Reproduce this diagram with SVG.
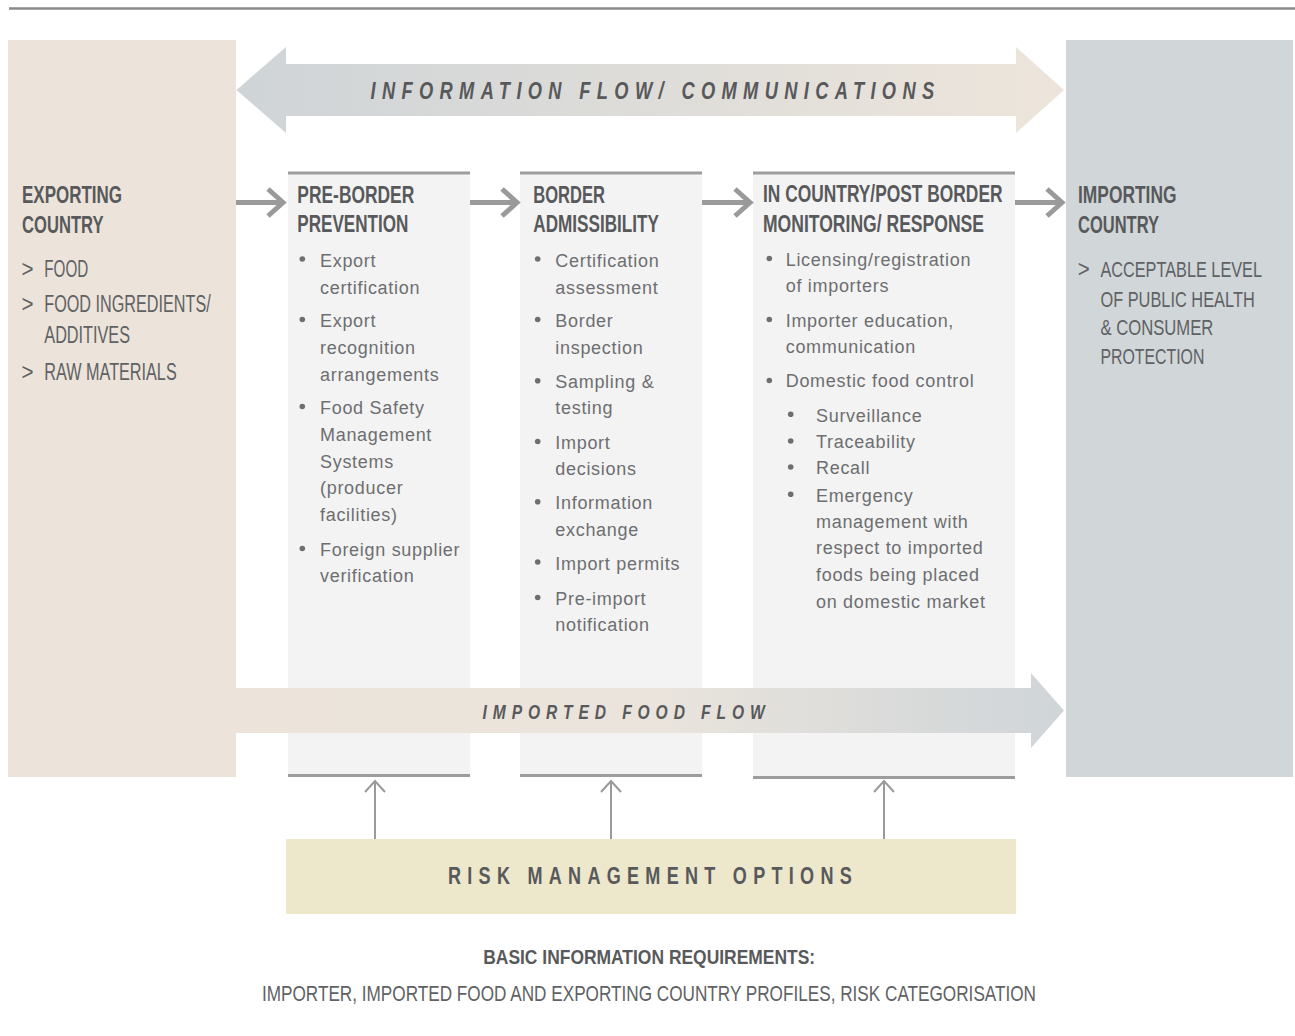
<svg xmlns="http://www.w3.org/2000/svg" width="1295" height="1036" viewBox="0 0 1295 1036">
<defs>
<linearGradient id="gInfo" gradientUnits="userSpaceOnUse" x1="236" y1="0" x2="1064" y2="0">
<stop offset="0" stop-color="#cfd4d7"/>
<stop offset="1" stop-color="#ede5db"/>
</linearGradient>
<linearGradient id="gFood" gradientUnits="userSpaceOnUse" x1="236" y1="0" x2="1064" y2="0">
<stop offset="0" stop-color="#ece4da"/>
<stop offset="0.5" stop-color="#eae4dc"/>
<stop offset="0.92" stop-color="#d3d7d9"/>
<stop offset="1" stop-color="#d0d5d8"/>
</linearGradient>
<style>
text{font-family:"Liberation Sans",Arial,sans-serif}
.h{font-weight:bold;font-size:23px;fill:#58595b}
.c{font-size:23px;fill:#606163}
.cs{font-size:17px;fill:#606163}
.b{font-size:18px;letter-spacing:0.7px;fill:#6d6e71}
.t{font-weight:bold;font-size:23px;letter-spacing:8px;fill:#58595b}
.it{font-style:italic}
.col{fill:#f3f3f3}
.edge{stroke:#9d9d9d;stroke-width:3}
.dot{fill:#6d6e71}
.conn{fill:none;stroke:#9a9a9a;stroke-width:5;stroke-linejoin:miter}
.up{fill:none;stroke:#9a9a9a;stroke-width:2}
</style>
</defs>

<line x1="9" y1="8.5" x2="1295" y2="8.5" stroke="#8a8a8a" stroke-width="2.5"/>

<g id="exporting-country">
<rect x="8" y="40" width="228" height="737" fill="#ece4da"/>
<text class="h" x="22" y="203" textLength="100" lengthAdjust="spacingAndGlyphs">EXPORTING</text>
<text class="h" x="22" y="233" textLength="81.5" lengthAdjust="spacingAndGlyphs">COUNTRY</text>
<text class="c" x="21.5" y="277" textLength="12" lengthAdjust="spacingAndGlyphs">&gt;</text>
<text class="c" x="44.3" y="277" textLength="44" lengthAdjust="spacingAndGlyphs">FOOD</text>
<text class="c" x="21.5" y="312" textLength="12" lengthAdjust="spacingAndGlyphs">&gt;</text>
<text class="c" x="44.3" y="312" textLength="166.4" lengthAdjust="spacingAndGlyphs">FOOD INGREDIENTS/</text>
<text class="c" x="44.3" y="342.5" textLength="85.7" lengthAdjust="spacingAndGlyphs">ADDITIVES</text>
<text class="c" x="21.5" y="380" textLength="12" lengthAdjust="spacingAndGlyphs">&gt;</text>
<text class="c" x="44.3" y="380" textLength="132.4" lengthAdjust="spacingAndGlyphs">RAW MATERIALS</text>
</g>

<g id="importing-country">
<rect x="1066" y="40" width="227" height="737" fill="#d1d6d9"/>
<text class="h" x="1078" y="202.5" textLength="98.5" lengthAdjust="spacingAndGlyphs">IMPORTING</text>
<text class="h" x="1078" y="232.5" textLength="81" lengthAdjust="spacingAndGlyphs">COUNTRY</text>
<text class="c" x="1077.8" y="277" textLength="12" lengthAdjust="spacingAndGlyphs">&gt;</text>
<text class="cs" x="0" y="0" transform="translate(1100.4 277) scale(1 1.35)" textLength="161.6" lengthAdjust="spacingAndGlyphs">ACCEPTABLE LEVEL</text>
<text class="cs" x="0" y="0" transform="translate(1100.4 306.7) scale(1 1.35)" textLength="154.3" lengthAdjust="spacingAndGlyphs">OF PUBLIC HEALTH</text>
<text class="cs" x="0" y="0" transform="translate(1100.4 335) scale(1 1.35)" textLength="113" lengthAdjust="spacingAndGlyphs">&amp; CONSUMER</text>
<text class="cs" x="0" y="0" transform="translate(1100.4 364.3) scale(1 1.35)" textLength="104" lengthAdjust="spacingAndGlyphs">PROTECTION</text>
</g>

<g id="information-flow">
<polygon points="236.5,90 286,47 286,64 1016,64 1016,47 1064,90 1016,133 1016,116 286,116 286,133" fill="url(#gInfo)"/>
<text class="t it" x="370.5" y="98.5" textLength="570" lengthAdjust="spacingAndGlyphs">INFORMATION FLOW/ COMMUNICATIONS</text>
</g>

<g id="pre-border-prevention">
<rect class="col" x="288" y="172" width="182" height="604"/>
<line class="edge" x1="288" y1="173" x2="470" y2="173"/>
<line class="edge" x1="288" y1="775.5" x2="470" y2="775.5"/>
<text class="h" x="297.3" y="202.7" textLength="117" lengthAdjust="spacingAndGlyphs">PRE-BORDER</text>
<text class="h" x="297.3" y="231.7" textLength="111" lengthAdjust="spacingAndGlyphs">PREVENTION</text>
<circle class="dot" cx="302.3" cy="259" r="2.8"/>
<text class="b" x="320" y="266.5">Export</text>
<text class="b" x="320" y="293.5">certification</text>
<circle class="dot" cx="302.3" cy="319.5" r="2.8"/>
<text class="b" x="320" y="327">Export</text>
<text class="b" x="320" y="354">recognition</text>
<text class="b" x="320" y="380.5">arrangements</text>
<circle class="dot" cx="302.3" cy="406.5" r="2.8"/>
<text class="b" x="320" y="414">Food Safety</text>
<text class="b" x="320" y="441">Management</text>
<text class="b" x="320" y="467.5">Systems</text>
<text class="b" x="320" y="494">(producer</text>
<text class="b" x="320" y="520.5">facilities)</text>
<circle class="dot" cx="302.3" cy="548.5" r="2.8"/>
<text class="b" x="320" y="556">Foreign supplier</text>
<text class="b" x="320" y="582">verification</text>
</g>

<g id="border-admissibility">
<rect class="col" x="520" y="172" width="182" height="604"/>
<line class="edge" x1="520" y1="173" x2="702" y2="173"/>
<line class="edge" x1="520" y1="775.5" x2="702" y2="775.5"/>
<text class="h" x="533.3" y="202.7" textLength="71.7" lengthAdjust="spacingAndGlyphs">BORDER</text>
<text class="h" x="533.3" y="231.7" textLength="125.7" lengthAdjust="spacingAndGlyphs">ADMISSIBILITY</text>
<circle class="dot" cx="537.7" cy="259" r="2.8"/>
<text class="b" x="555.3" y="266.5">Certification</text>
<text class="b" x="555.3" y="293.5">assessment</text>
<circle class="dot" cx="537.7" cy="319.5" r="2.8"/>
<text class="b" x="555.3" y="327">Border</text>
<text class="b" x="555.3" y="353.5">inspection</text>
<circle class="dot" cx="537.7" cy="380.8" r="2.8"/>
<text class="b" x="555.3" y="388.3">Sampling &amp;</text>
<text class="b" x="555.3" y="414">testing</text>
<circle class="dot" cx="537.7" cy="441.5" r="2.8"/>
<text class="b" x="555.3" y="449">Import</text>
<text class="b" x="555.3" y="475">decisions</text>
<circle class="dot" cx="537.7" cy="501.8" r="2.8"/>
<text class="b" x="555.3" y="509.3">Information</text>
<text class="b" x="555.3" y="535.5">exchange</text>
<circle class="dot" cx="537.7" cy="562" r="2.8"/>
<text class="b" x="555.3" y="569.5">Import permits</text>
<circle class="dot" cx="537.7" cy="597.5" r="2.8"/>
<text class="b" x="555.3" y="605">Pre-import</text>
<text class="b" x="555.3" y="631">notification</text>
</g>

<g id="in-country-post-border">
<rect class="col" x="753" y="172" width="262" height="606"/>
<line class="edge" x1="753" y1="173" x2="1015" y2="173"/>
<line class="edge" x1="753" y1="777.5" x2="1015" y2="777.5"/>
<text class="h" x="763" y="202.3" textLength="239.5" lengthAdjust="spacingAndGlyphs">IN COUNTRY/POST BORDER</text>
<text class="h" x="763" y="232" textLength="221" lengthAdjust="spacingAndGlyphs">MONITORING/ RESPONSE</text>
<circle class="dot" cx="769.3" cy="258.5" r="2.8"/>
<text class="b" x="785.7" y="266">Licensing/registration</text>
<text class="b" x="785.7" y="292">of importers</text>
<circle class="dot" cx="769.3" cy="319.5" r="2.8"/>
<text class="b" x="785.7" y="327">Importer education,</text>
<text class="b" x="785.7" y="353">communication</text>
<circle class="dot" cx="769.3" cy="380.5" r="2.8"/>
<text class="b" x="785.7" y="387.3">Domestic food control</text>
<circle class="dot" cx="790.7" cy="414.3" r="2.8"/>
<text class="b" x="816" y="421.7">Surveillance</text>
<circle class="dot" cx="790.7" cy="441" r="2.8"/>
<text class="b" x="816" y="448.3">Traceability</text>
<circle class="dot" cx="790.7" cy="467" r="2.8"/>
<text class="b" x="816" y="474.3">Recall</text>
<circle class="dot" cx="790.7" cy="494.3" r="2.8"/>
<text class="b" x="816" y="501.7">Emergency</text>
<text class="b" x="816" y="528.3">management with</text>
<text class="b" x="816" y="554.3">respect to imported</text>
<text class="b" x="816" y="581">foods being placed</text>
<text class="b" x="816" y="607.7">on domestic market</text>
</g>

<g id="imported-food-flow">
<polygon points="236,688 1031,688 1031,673 1064,710.5 1031,748 1031,733 236,733" fill="url(#gFood)"/>
<text class="t it" x="482.6" y="719" style="font-size:21px" textLength="288" lengthAdjust="spacingAndGlyphs">IMPORTED FOOD FLOW</text>
</g>

<g id="risk-management-options">
<rect x="286" y="839" width="730" height="75" fill="#ede7cc"/>
<text class="t" x="448" y="884" textLength="410" lengthAdjust="spacingAndGlyphs">RISK MANAGEMENT OPTIONS</text>
</g>

<g id="basic-information">
<text class="h" x="483.2" y="963.5" style="font-size:21px" textLength="332" lengthAdjust="spacingAndGlyphs">BASIC INFORMATION REQUIREMENTS:</text>
<text class="c" x="262" y="1000.5" style="font-size:22px" textLength="774" lengthAdjust="spacingAndGlyphs">IMPORTER, IMPORTED FOOD AND EXPORTING COUNTRY PROFILES, RISK CATEGORISATION</text>
</g>

<g id="connectors">
<line class="conn" x1="236" y1="202.5" x2="282" y2="202.5"/>
<polyline class="conn" points="268,189 283,202.5 268,216"/>
<line class="conn" x1="470" y1="202.5" x2="516" y2="202.5"/>
<polyline class="conn" points="502,189 517,202.5 502,216"/>
<line class="conn" x1="702" y1="202.5" x2="749" y2="202.5"/>
<polyline class="conn" points="735,189 750,202.5 735,216"/>
<line class="conn" x1="1015" y1="202.5" x2="1061" y2="202.5"/>
<polyline class="conn" points="1047,189 1062,202.5 1047,216"/>
<line class="up" x1="375" y1="839" x2="375" y2="781"/>
<polyline class="up" points="365,792 375,781 385,792"/>
<line class="up" x1="611" y1="839" x2="611" y2="781"/>
<polyline class="up" points="601,792 611,781 621,792"/>
<line class="up" x1="884" y1="839" x2="884" y2="781"/>
<polyline class="up" points="874,792 884,781 894,792"/>
</g>
</svg>
